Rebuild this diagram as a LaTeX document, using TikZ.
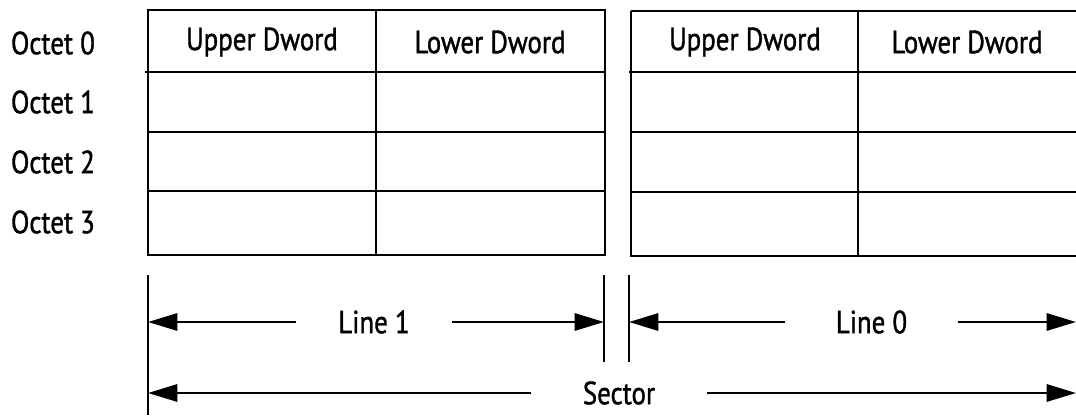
\documentclass[tikz,border=0pt]{standalone}
\usepackage{fontspec}
\setmainfont{PT Sans}[FakeStretch=0.84, FakeBold=1.2]
\usetikzlibrary{arrows.meta}

\tikzset{every picture/.style={line width=1.5pt}}
\tikzset{
  celltext/.style={inner sep=0.75pt, font=\fontsize{24}{28}\selectfont},
  octetlabel/.style={anchor=west, inner sep=0.75pt, font=\fontsize{24}{28}\selectfont},
  spanlabel/.style={inner sep=0pt, minimum height=20pt, font=\fontsize{24}{28}\selectfont},
  spanarrow/.style={-{Triangle[length=22pt,width=13pt]}},
}

\begin{document}
\begin{tikzpicture}[x=0.75pt,y=0.75pt,yscale=-1,xscale=1]
  \useasboundingbox (0,0) rectangle (1076,415);

  %Left table (Line 1)
  \draw (148,10) rectangle (605,255);
  \draw (376,10) -- (376,255);
  \draw (145,72) -- (605,72);
  \foreach \y in {132,191} \draw (148,\y) -- (605,\y);

  %Right table (Line 0), cut at the right edge
  \draw (631,11) -- (1080,11);
  \draw (631,11) -- (631,256) -- (1080,256);
  \draw (858,11) -- (858,256);
  \draw (629,72) -- (1080,72);
  \foreach \y in {132,192} \draw (631,\y) -- (1080,\y);

  % Text Node
  \node (up1) [celltext] at (262,42) {Upper Dword};
  \node (lo1) [celltext] at (490,42) {Lower Dword};
  \node (up0) [celltext] at (745,42) {Upper Dword};
  \node (lo0) [celltext] at (967,42) {Lower Dword};

  % Octet labels
  \node (oct0) [octetlabel] at (9,43) {Octet 0};
  \node (oct1) [octetlabel] at (9,102) {Octet 1};
  \node (oct2) [octetlabel] at (9,162) {Octet 2};
  \node (oct3) [octetlabel] at (9,222) {Octet 3};

  %Tick marks
  \draw (148,275) -- (148,415);
  \draw (604,275) -- (604,362);
  \draw (629,275) -- (629,362);

  \coordinate (l1left) at (148,322);
  \coordinate (l1right) at (604,322);
  \coordinate (l0left) at (629,322);
  \coordinate (l0right) at (1076,322);
  \coordinate (secleft) at (148,393);
  \coordinate (secright) at (1076,393);

  % Span labels
  \node (line1) [spanlabel, minimum width=115.5pt] at (374,322) {Line 1};
  \node (line0) [spanlabel, minimum width=128pt] at (871.5,322) {Line 0};
  \node (sector) [spanlabel, minimum width=130.5pt] at (619,393) {Sector};

  %Arrows
  \draw [spanarrow] (line1.west) -- (l1left);
  \draw [spanarrow] (line1.east) -- (l1right);
  \draw [spanarrow] (line0.west) -- (l0left);
  \draw [spanarrow] (line0.east) -- (l0right);
  \draw [spanarrow] (sector.west) -- (secleft);
  \draw [spanarrow] (sector.east) -- (secright);
\end{tikzpicture}
\end{document}
